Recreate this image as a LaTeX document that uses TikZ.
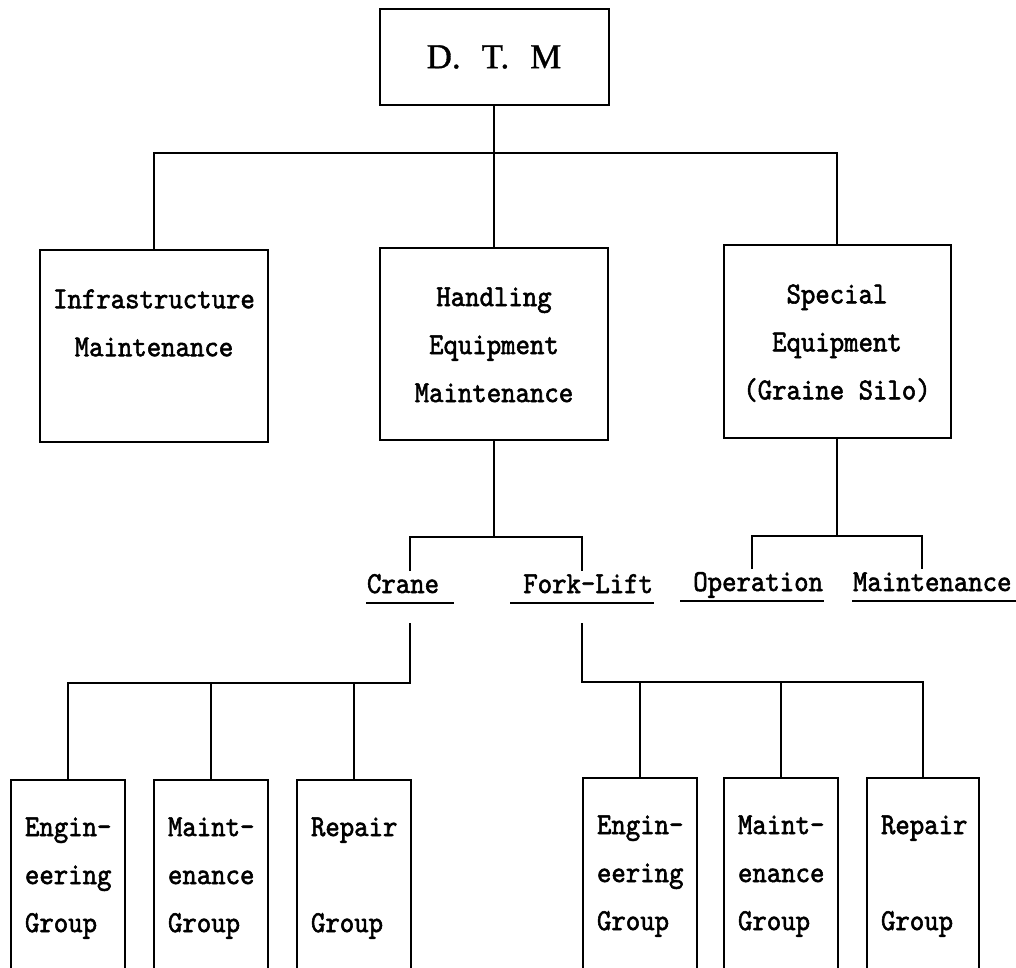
\documentclass[tikz,border=0pt]{standalone}
\usepackage{fontspec}
\newfontfamily\dtmfont{Liberation Serif}[FakeBold=1]
\newfontfamily\twfont{lmmono10-regular.otf}[FakeBold=1.8,FakeStretch=0.9]
\usetikzlibrary{calc}
\newcommand\fst{\rule{0pt}{18.6pt}}
\begin{document}
\begin{tikzpicture}[x=1pt,y=-1pt,line width=2pt,
  box/.style={draw,line width=2pt,inner sep=0pt},
  topbox/.style={box,minimum width=228pt,minimum height=192pt},
  grpbox/.style={box,minimum width=114pt,minimum height=210pt},
  txt/.style={font=\twfont\fontsize{30.5}{48}\selectfont,inner sep=0pt,anchor=north,align=center},
  btxt/.style={font=\twfont\fontsize{30.5}{48}\selectfont,inner sep=0pt,anchor=north west,align=left},
  lab/.style={font=\twfont\fontsize{30.5}{33}\selectfont,inner sep=0pt,text height=21pt,text depth=9pt},
  conn/.style={draw,line width=2pt}]
\useasboundingbox (0,0) rectangle (1016,967);
\clip (0,0) rectangle (1016,967);

% top
\node[box,minimum width=229pt,minimum height=96pt,font=\dtmfont\fontsize{35}{40}\selectfont] (dtm) at (494,57) {\spaceskip=0.6em D. T. M};

% level 2
\node[topbox] (infra) at (154,346) {};
\node[txt] (infraT) at (154,288.4) {\fst Infrastructure\\Maintenance};
\node[topbox] (handl) at (494,344) {};
\node[txt] (handlT) at (494,286.4) {\fst Handling\\Equipment\\Maintenance};
\node[topbox,minimum width=227pt,minimum height=193pt] (spec) at (837,341.5) {};
\node[txt] (specT) at (837,283.4) {\fst Special\\Equipment\\(Graine Silo)};

\coordinate (bus1) at (494,153);
\draw[conn] (dtm.south) -- (handl.north);
\draw[conn] (infra.north) |- (spec.north |- bus1) -- (spec.north);

% level 3 labels
\node[lab,text width=86pt,align=left] (crane) at (410,587) {Crane};
\node[lab,text width=142pt,align=right] (fork) at (582,587) {Fork-Lift};
\node[lab,text width=142pt,align=right] (oper) at (752,585) {Operation};
\node[lab,text width=170pt,align=left] (maint) at (938,585) {Maintenance};
\draw[conn] (crane.south west) -- (crane.south east);
\draw[conn] (fork.south west) -- (fork.south east);
\draw[conn] (oper.south west) -- (oper.south east);
\draw[conn] (maint.south west) -- (maint.south east);

\coordinate (bus2) at (494,537);
\draw[conn] (handl.south) -- (handl.south |- bus2);
\draw[conn] (crane.north) |- (handl.south |- bus2) -| (fork.north);
\coordinate (bus3) at (837,536);
\draw[conn] (spec.south) -- (spec.south |- bus3);
\draw[conn] (oper.north) |- (spec.south |- bus3) -| ($(maint.north)+(-16,0)$);

% groups
\node[grpbox] (ce) at (68,885) {};
\node[grpbox] (cm) at (211,885) {};
\node[grpbox] (cr) at (354,885) {};
\node[grpbox] (fe) at (640,883) {};
\node[grpbox] (fm) at (781,883) {};
\node[grpbox,minimum width=112pt] (fr) at (923,883) {};

\node[btxt] (ceT) at ($(ce.north west)+(14,37.4)$) {\fst Engin-\\eering\\Group};
\node[btxt] (cmT) at ($(cm.north west)+(14,37.4)$) {\fst Maint-\\enance\\Group};
\node[btxt] (crT) at ($(cr.north west)+(14,37.4)$) {\fst Repair\\\mbox{}\\Group};
\node[btxt] (feT) at ($(fe.north west)+(14,37.4)$) {\fst Engin-\\eering\\Group};
\node[btxt] (fmT) at ($(fm.north west)+(14,37.4)$) {\fst Maint-\\enance\\Group};
\node[btxt] (frT) at ($(fr.north west)+(14,37.4)$) {\fst Repair\\\mbox{}\\Group};

\coordinate (bus4) at (410,683);
\draw[conn] ($(crane.south)+(0,20)$) -- (crane.south |- bus4) -| (ce.north);
\draw[conn] (cm.north) -- (cm.north |- bus4);
\draw[conn] (cr.north) -- (cr.north |- bus4);

\coordinate (bus5) at (582,682);
\draw[conn] ($(fork.south)+(0,20)$) -- (fork.south |- bus5) -| (fr.north);
\draw[conn] (fe.north) -- (fe.north |- bus5);
\draw[conn] (fm.north) -- (fm.north |- bus5);
\end{tikzpicture}
\end{document}
